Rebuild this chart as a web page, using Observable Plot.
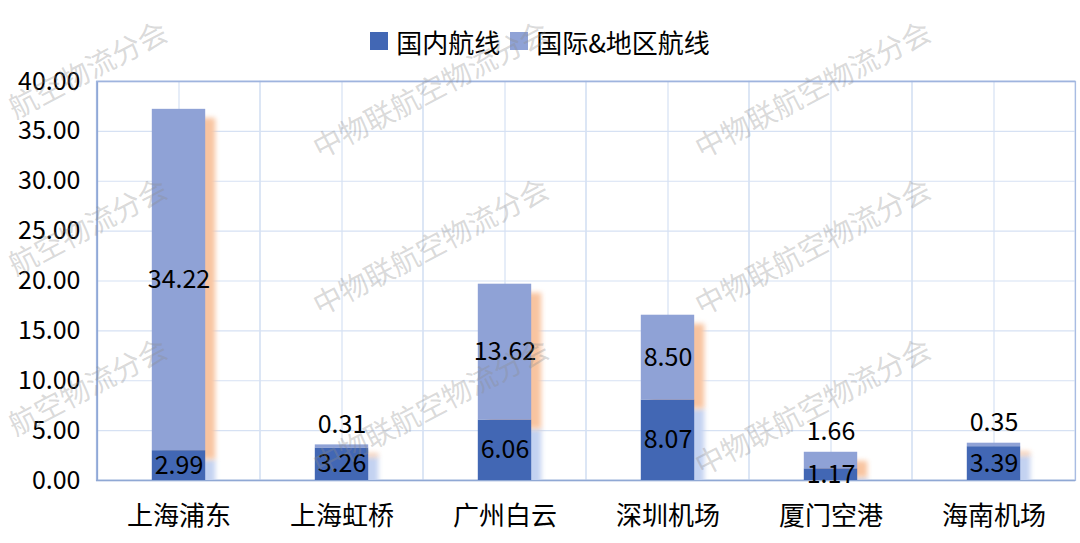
<!DOCTYPE html>
<html>
<head>
<meta charset="utf-8">
<script src="https://cdn.jsdelivr.net/npm/d3@7"></script>
<script src="https://cdn.jsdelivr.net/npm/@observablehq/plot@0.6"></script>
<style>
  html, body { margin: 0; padding: 0; background: #fff; }
  #wrap { position: relative; width: 1080px; height: 543px; overflow: hidden; font-family: "Noto Sans CJK SC", "Noto Sans", sans-serif; }
  #legend { height: 62px; box-sizing: border-box; padding-top: 20px; display: flex; justify-content: center; align-items: center; font-size: 26px; color: #000; }
  #legend .item { display: flex; align-items: center; }
  #legend .sw { width: 18px; height: 18px; margin-right: 8px; }
  #legend .item + .item { margin-left: 10px; }
  .wm { position: absolute; white-space: nowrap; font-size: 29px; line-height: 1; color: rgba(140,140,140,0.32); transform: translate(-50%, -50%) rotate(-27.5deg); pointer-events: none; }
</style>
</head>
<body>
<div id="wrap">
  <div id="legend"></div>
  <div id="chart"></div>
</div>
<script>
const categories = ["上海浦东", "上海虹桥", "广州白云", "深圳机场", "厦门空港", "海南机场"];
const domestic = [2.99, 3.26, 6.06, 8.07, 1.17, 3.39];
const international = [34.22, 0.31, 13.62, 8.50, 1.66, 0.35];
const seriesNames = ["国内航线", "国际&地区航线"];
const seriesColors = ["#4267B4", "#8FA2D6"];
const yTicks = [0, 5, 10, 15, 20, 25, 30, 35, 40];
const watermarkText = "中物联航空物流分会";

const rows = categories.map((c, i) => ({
  cat: c,
  dom: domestic[i],
  intl: international[i],
  total: domestic[i] + international[i]
}));

const fmt = d3.format(".2f");

// legend
const legend = document.getElementById("legend");
seriesNames.forEach((name, i) => {
  const item = document.createElement("div");
  item.className = "item";
  const sw = document.createElement("div");
  sw.className = "sw";
  sw.style.background = seriesColors[i];
  const label = document.createElement("span");
  label.textContent = name;
  item.appendChild(sw);
  item.appendChild(label);
  legend.appendChild(item);
});

const gridColor = "#D6E1F3";
const barInset = 54.8;

const chart = Plot.plot({
  width: 1080,
  height: 481,
  marginTop: 19,
  marginBottom: 63,
  marginLeft: 96,
  marginRight: 5,
  style: { fontFamily: "Noto Sans CJK SC, Noto Sans, sans-serif", fontSize: "25px", color: "#000", background: "transparent" },
  x: { domain: categories, padding: 0, label: null },
  y: { domain: [0, 40], label: null },
  marks: [
    Plot.ruleY(yTicks, { stroke: gridColor, strokeWidth: 1.2 }),
    Plot.barY(rows, { x: "cat", y1: 0, y2: 40, fill: "none", stroke: gridColor, strokeWidth: 1.2 }),
    Plot.ruleX(rows, { x: "cat", y1: 0, y2: 40, stroke: gridColor, strokeWidth: 1.2 }),
    Plot.frame({ stroke: "#A9BCE2", strokeWidth: 1.2 }),
    Plot.ruleX([0], { x: () => categories[0], dx: -81.6, y1: 0, y2: 40, stroke: "#8FA8D6", strokeWidth: 1.5 }),
    Plot.ruleY([40], { stroke: "#9FB4DE", strokeWidth: 1.5 }),
    Plot.ruleY([0], { stroke: "#90A8D4", strokeWidth: 1.5 }),
    Plot.barY(rows, { x: "cat", y1: 0, y2: "dom", fill: "#C3D2F1", dx: 10, dy: 9, clip: true, insetLeft: barInset, insetRight: barInset, ariaDescription: "shadow" }),
    Plot.barY(rows, { x: "cat", y1: "dom", y2: "total", fill: "#F8C4A0", dx: 10, dy: 9, clip: true, insetLeft: barInset, insetRight: barInset, ariaDescription: "shadow" }),
    Plot.barY(rows, { x: "cat", y1: 0, y2: "dom", fill: seriesColors[0], insetLeft: barInset, insetRight: barInset }),
    Plot.barY(rows, { x: "cat", y1: "dom", y2: "total", fill: seriesColors[1], insetLeft: barInset, insetRight: barInset }),
    Plot.text(rows, { x: "cat", y: d => d.dom / 2, text: d => fmt(d.dom), fill: "#000", fontSize: 25 }),
    Plot.text(rows, { filter: d => d.intl >= 2, x: "cat", y: d => d.dom + d.intl / 2, text: d => fmt(d.intl), fill: "#000", fontSize: 25 }),
    Plot.text(rows, { filter: d => d.intl < 2, x: "cat", y: "total", dy: -20, text: d => fmt(d.intl), fill: "#000", fontSize: 25 }),
    Plot.axisY({ ticks: yTicks, tickFormat: fmt, tickSize: 0, tickPadding: 16, fontSize: 25 }),
    Plot.axisX({ tickSize: 0, tickPadding: 26, fontSize: 26 })
  ]
});

document.getElementById("chart").appendChild(chart);
chart.querySelectorAll('g[aria-description="shadow"]').forEach(g => {
  g.style.filter = "blur(2.5px)";
});

// watermarks: only the characters whose rotated boxes lie fully inside the picture are drawn
const wrap = document.getElementById("wrap");
const wmX = [48, 430, 812, 1194];
const wmY = [88, 245, 405, 563];
const ang = -27.5 * Math.PI / 180;
const step = 29, half = 22;
const chars = Array.from(watermarkText);
wmX.forEach(cx => wmY.forEach(cy => {
  const pos = chars.map((ch, k) => {
    const o = (k - (chars.length - 1) / 2) * step;
    return { k, x: cx + o * Math.cos(ang), y: cy + o * Math.sin(ang) };
  }).filter(p => p.x - half >= 0 && p.x + half <= 1080 && p.y - half >= 0 && p.y + half <= 543);
  if (pos.length < 2) return;
  const a = pos[0], b = pos[pos.length - 1];
  const w = document.createElement("div");
  w.className = "wm";
  w.textContent = chars.slice(a.k, b.k + 1).join("");
  w.style.left = ((a.x + b.x) / 2) + "px";
  w.style.top = ((a.y + b.y) / 2) + "px";
  wrap.appendChild(w);
}));
</script>
</body>
</html>
